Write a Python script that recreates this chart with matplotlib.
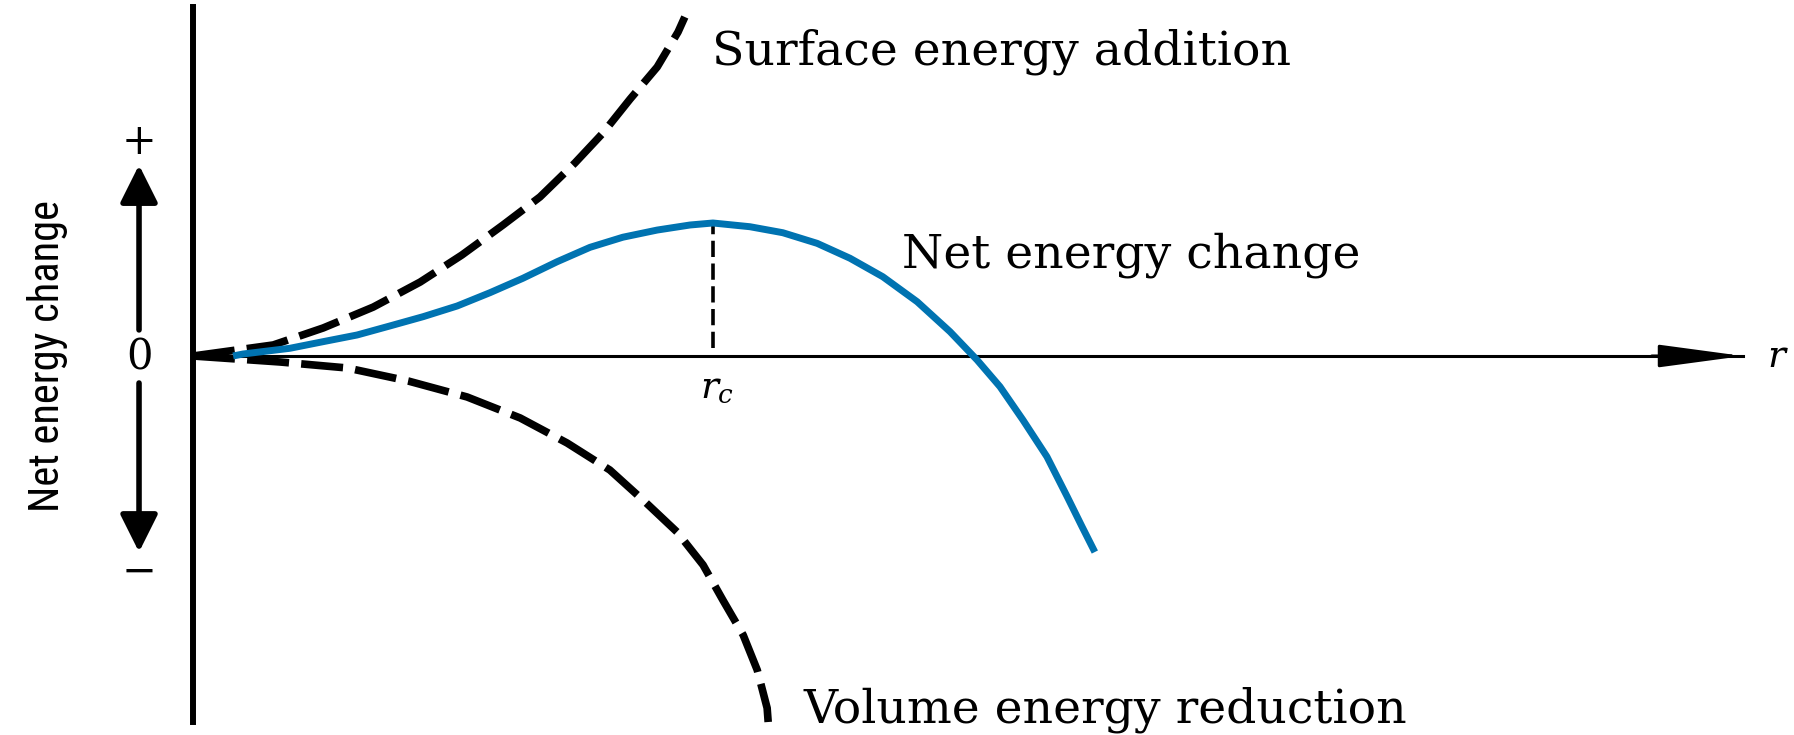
import matplotlib
matplotlib.use('Agg')
import matplotlib.pyplot as plt

# radius in units of the critical radius r_c, energy in units of the barrier height
surface_r = [0.0, 0.154, 0.250, 0.346, 0.436, 0.516, 0.595, 0.666, 0.733, 0.787,
             0.839, 0.891, 0.931, 0.944]
surface_e = [0.0, 0.083, 0.211, 0.368, 0.556, 0.759, 0.985, 1.196, 1.451, 1.677,
             1.932, 2.173, 2.436, 2.549]

volume_r = [0.0, 0.167, 0.296, 0.413, 0.526, 0.628, 0.718, 0.800, 0.868, 0.929,
            0.979, 1.017, 1.056, 1.083, 1.102, 1.104]
volume_e = [0.0, -0.045, -0.090, -0.188, -0.308, -0.466, -0.654, -0.857, -1.098, -1.323,
            -1.571, -1.835, -2.098, -2.361, -2.647, -2.752]

net_r = [0.077, 0.096, 0.186, 0.250, 0.315, 0.378, 0.442, 0.507, 0.570, 0.633,
         0.699, 0.762, 0.825, 0.891, 0.954, 0.998, 1.069, 1.132, 1.198, 1.261,
         1.324, 1.390, 1.453, 1.505, 1.549, 1.593, 1.639, 1.678, 1.706, 1.731]
net_e = [0.0, 0.015, 0.058, 0.108, 0.158, 0.226, 0.296, 0.376, 0.476, 0.584,
         0.709, 0.817, 0.893, 0.947, 0.985, 1.0, 0.972, 0.927, 0.847, 0.735,
         0.596, 0.408, 0.183, -0.030, -0.231, -0.481, -0.757, -1.058, -1.280, -1.474]

r_crit = 0.998
e_crit = 1.0

labels = ['Surface energy addition', 'Net energy change', 'Volume energy reduction']
ylabel = 'Net energy change'

fig = plt.figure(figsize=(17.94, 7.35), dpi=100)
ax = fig.add_axes([0, 0, 1, 1])
ax.set_xlim(-0.37044, 3.07294)
ax.set_ylim(-2.84962, 2.67669)
ax.set_xticks([])
ax.set_yticks([])

# axes drawn as spines through the origin
ax.spines['top'].set_visible(False)
ax.spines['right'].set_visible(False)
ax.spines['left'].set_position(('data', 0))
ax.spines['bottom'].set_position(('data', 0))
ax.spines['left'].set_bounds(-2.752, 2.624)
ax.spines['bottom'].set_bounds(0, 2.975)
ax.spines['left'].set_linewidth(4.3)
ax.spines['bottom'].set_linewidth(2.2)
ax.annotate('', xy=(2.975, 0), xytext=(2.80, 0),
            arrowprops=dict(arrowstyle='-|>,head_length=52,head_width=7',
                            mutation_scale=1, lw=2.2, color='black',
                            shrinkA=0, shrinkB=0))

dash = dict(color='black', lw=5.5, dashes=(5.5, 1.6), dash_capstyle='butt',
            solid_joinstyle='round')
ax.plot(surface_r, surface_e, **dash)
ax.plot(volume_r, volume_e, **dash)
ax.plot(net_r, net_e, color='#0073b1', lw=5.0, solid_capstyle='butt',
        solid_joinstyle='round', zorder=3)
ax.vlines(r_crit, 0.06, e_crit, colors='black', lw=2.6, linestyles=(0, (4.5, 1.8)))

serif = 'DejaVu Serif'
plt.rcParams['mathtext.fontset'] = 'dejavuserif'
ax.text(0.996, 2.188, labels[0], family=serif, fontsize=34, va='baseline')
ax.text(1.361, 0.669, labels[1], family=serif, fontsize=34, va='baseline')
ax.text(1.171, -2.759, labels[2], family=serif, fontsize=34, va='baseline')
ax.text(1.006, -0.308, r'$r_c$', fontsize=27, ha='center', va='baseline')
ax.text(3.021, -0.083, r'$r$', fontsize=27, ha='left', va='baseline')

# sign scale on the left
ax.text(-0.1036, 1.609, '+', family=serif, fontsize=30, ha='center', va='center')
ax.text(-0.1036, -0.015, '0', family=serif, fontsize=30, ha='center', va='center')
ax.text(-0.1036, -1.624, '\u2212', family=serif, fontsize=30, ha='center', va='center')
arrow = dict(arrowstyle='-|>,head_length=23,head_width=11.5', mutation_scale=1,
             lw=4.0, color='black', shrinkA=0, shrinkB=0)
ax.annotate('', xy=(-0.1036, 1.436), xytext=(-0.1036, 0.196), arrowprops=arrow)
ax.annotate('', xy=(-0.1036, -1.474), xytext=(-0.1036, -0.203), arrowprops=arrow)
yl = ax.text(-0.2793, 0.0, ylabel,
             family=['Liberation Sans Narrow', 'DejaVu Sans Condensed',
                     'Roboto Condensed', 'DejaVu Sans'],
             fontsize=32, rotation=90, ha='center', va='center')

# fit the rotated label to the length it has in the original (about 313 px)
fig.canvas.draw()
span = yl.get_window_extent().height
yl.set_fontsize(yl.get_fontsize() * 313 / span)

fig.savefig('out.png', dpi=100, facecolor='white')
